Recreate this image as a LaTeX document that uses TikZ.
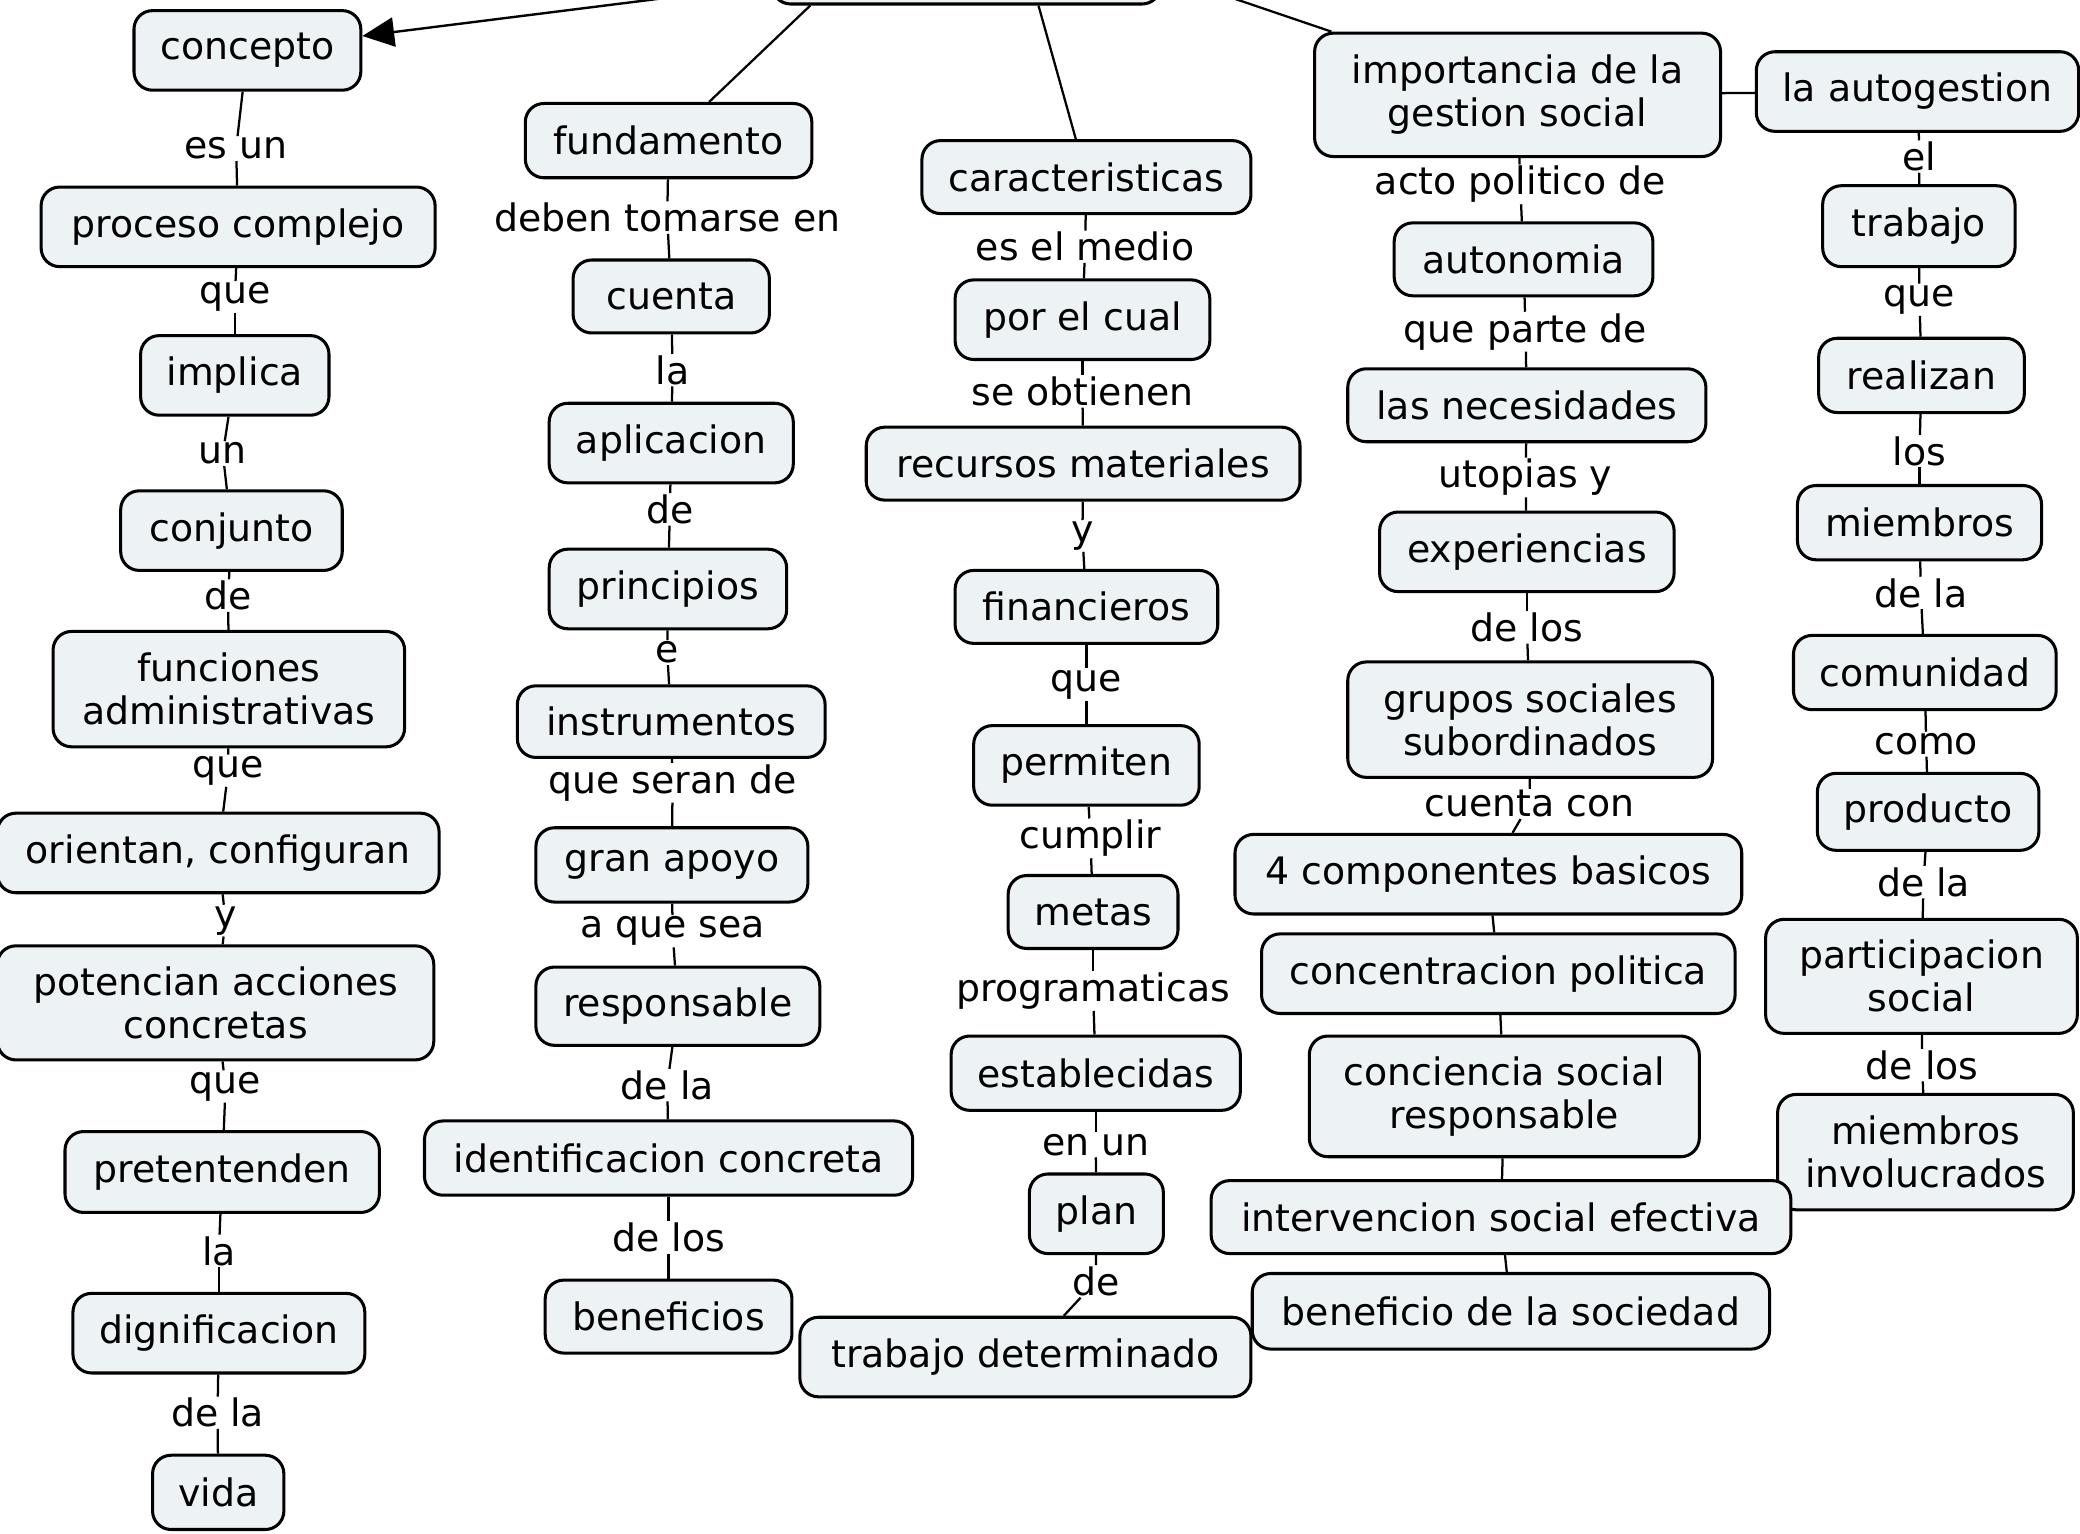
\documentclass[tikz,border=0pt]{standalone}
\usepackage{fontspec}
\setmainfont{DejaVu Sans}
\usetikzlibrary{calc,arrows.meta}
\definecolor{boxfill}{HTML}{EDF2F5}
\newcommand\mapfont{\fontsize{28.5}{32.5}\selectfont}
\begin{document}
\begin{tikzpicture}[x=1pt,y=-1pt,
  concept/.style={draw=black, line width=2.3pt, fill=boxfill, rounded corners=14pt,
    inner sep=0pt, align=center, font=\mapfont},
  lab/.style={inner sep=1pt, align=center, font=\mapfont},
  conn/.style={line width=1.7pt, draw=black},
  bigarrow/.style={line width=1.8pt, -{Triangle[length=24pt,width=22pt]}}]
\useasboundingbox (0,0) rectangle (1568,1156);

% root (mostly above the page)
\node[concept, minimum width=293pt, minimum height=86pt] (root) at (728.5,-40) {};
\coordinate (r1) at ($(root.south west)+(30,0)$);
\coordinate (r2) at ($(root.south west)+(202,0)$);
\coordinate (lkA) at (569,-10);
\coordinate (lkB) at (904,-10);

% column 1
\node[concept, minimum width=171pt, minimum height=60pt] (concepto) at (186.5,38) {concepto};
\node[concept, minimum width=297pt, minimum height=60pt] (proceso) at (179.5,171) {proceso complejo};
\node[concept, minimum width=142pt, minimum height=60pt] (implica) at (177,283) {implica};
\node[concept, minimum width=167pt, minimum height=60pt] (conjunto) at (174.5,400) {conjunto};
\node[concept, minimum width=265pt, minimum height=87pt] (funciones) at (172.5,519.5) {funciones\\administrativas};
\node[concept, minimum width=333pt, minimum height=60pt] (orientan) at (164.5,643) {orientan, configuran};
\node[concept, minimum width=329pt, minimum height=86pt] (potencian) at (162.5,756) {potencian acciones\\concretas};
\node[concept, minimum width=237pt, minimum height=61pt] (pretenden) at (167.5,883.5) {pretentenden};
\node[concept, minimum width=220pt, minimum height=60pt] (dignif) at (165,1005) {dignificacion};
\node[concept, minimum width=99pt, minimum height=56pt] (vida) at (164.5,1125) {vida};

\node[lab] (a1) at (178,112) {es un};
\node[lab] (a2) at (177,224) {que};
\node[lab] (a3) at (168,342) {un};
\node[lab] (a4) at (172,449) {de};
\node[lab] (a5) at (172,581) {que};
\node[lab] (a6) at (170,694) {y};
\node[lab] (a7) at (170,819) {que};
\node[lab] (a8) at (165,943) {la};
\node[lab] (a9) at (164,1065) {de la};

% column 2
\node[concept, minimum width=216pt, minimum height=56pt] (fundamento) at (504,106) {fundamento};
\node[concept, minimum width=148pt, minimum height=55pt] (cuenta) at (506,223.5) {cuenta};
\node[concept, minimum width=184pt, minimum height=60pt] (aplicacion) at (506,334) {aplicacion};
\node[concept, minimum width=179pt, minimum height=60pt] (principios) at (503.5,444) {principios};
\node[concept, minimum width=232pt, minimum height=54pt] (instrumentos) at (506,544) {instrumentos};
\node[concept, minimum width=205pt, minimum height=56pt] (apoyo) at (506.5,652) {gran apoyo};
\node[concept, minimum width=214pt, minimum height=59pt] (responsable) at (511,758.5) {responsable};
\node[concept, minimum width=368pt, minimum height=56pt] (identif) at (504,873) {identificacion concreta};
\node[concept, minimum width=186pt, minimum height=55pt] (beneficios) at (504,992.5) {beneficios};

\node[lab] (b1) at (503,164) {deben tomarse en};
\node[lab] (b2) at (507,279) {la};
\node[lab] (b3) at (505,384) {de};
\node[lab] (b4) at (503,492) {e};
\node[lab] (b5) at (507,590) {que seran de};
\node[lab] (b6) at (507,702) {a que sea};
\node[lab] (b7) at (503,818) {de la};
\node[lab] (b8) at (504,933) {de los};

% column 3
\node[concept, minimum width=248pt, minimum height=55pt] (caract) at (819,133.5) {caracteristicas};
\node[concept, minimum width=192pt, minimum height=60pt] (porelcual) at (816,241) {por el cual};
\node[concept, minimum width=327pt, minimum height=55pt] (recursos) at (816.5,349.5) {recursos materiales};
\node[concept, minimum width=198pt, minimum height=55pt] (financieros) at (819,457.5) {financieros};
\node[concept, minimum width=170pt, minimum height=60pt] (permiten) at (819,577) {permiten};
\node[concept, minimum width=128pt, minimum height=55pt] (metas) at (824,687.5) {metas};
\node[concept, minimum width=218pt, minimum height=56pt] (establecidas) at (826,809) {establecidas};
\node[concept, minimum width=101pt, minimum height=60pt] (plan) at (826.5,915) {plan};
\node[concept, minimum width=340pt, minimum height=60pt] (trabajodet) at (773,1023) {trabajo determinado};

\node[lab] (c1) at (818,186) {es el medio};
\node[lab] (c2) at (816,295) {se obtienen};
\node[lab] (c3) at (816,404) {y};
\node[lab] (c4) at (819,516) {que};
\node[lab] (c5) at (822,632) {cumplir};
\node[lab] (c6) at (824,747) {programaticas};
\node[lab] (c7) at (826,863) {en un};
\node[lab] (c8) at (826,966) {de};

% column 5 (before column 4 so that overlaps match)
\node[concept, minimum width=243pt, minimum height=60pt] (autogestion) at (1445.5,69) {la autogestion};
\node[concept, minimum width=145pt, minimum height=61pt] (trabajo) at (1446.5,170.5) {trabajo};
\node[concept, minimum width=155pt, minimum height=56pt] (realizan) at (1448.5,283) {realizan};
\node[concept, minimum width=184pt, minimum height=56pt] (miembros) at (1447,394) {miembros};
\node[concept, minimum width=198pt, minimum height=56pt] (comunidad) at (1451,507) {comunidad};
\node[concept, minimum width=167pt, minimum height=58pt] (producto) at (1453.5,612) {producto};
\node[concept, minimum width=235pt, minimum height=86pt] (particip) at (1448.5,736) {participacion\\social};
\node[concept, minimum width=223pt, minimum height=87pt] (involucrados) at (1451.5,868.5) {miembros\\involucrados};

\node[lab] (e1) at (1447,118) {el};
\node[lab] (e2) at (1447,226) {que};
\node[lab] (e3) at (1447,340) {los};
\node[lab] (e4) at (1448,447) {de la};
\node[lab] (e5) at (1452,561) {como};
\node[lab] (e6) at (1450,665) {de la};
\node[lab] (e7) at (1449,803) {de los};

% column 4
\node[concept, minimum width=306pt, minimum height=93pt] (importancia) at (1144,71.5) {importancia de la\\gestion social};
\node[concept, minimum width=195pt, minimum height=55pt] (autonomia) at (1148.5,195.5) {autonomia};
\node[concept, minimum width=270pt, minimum height=55pt] (necesidades) at (1151,305.5) {las necesidades};
\node[concept, minimum width=222pt, minimum height=60pt] (experiencias) at (1151,416) {experiencias};
\node[concept, minimum width=275pt, minimum height=87pt] (grupos) at (1153.5,542.5) {grupos sociales\\subordinados};
\node[concept, minimum width=382pt, minimum height=60pt] (componentes) at (1122,659) {4 componentes basicos};
\node[concept, minimum width=357pt, minimum height=60pt] (concentracion) at (1129.5,734) {concentracion politica};
\node[concept, minimum width=294pt, minimum height=91pt] (conciencia) at (1134,826.5) {conciencia social\\responsable};
\node[concept, minimum width=437pt, minimum height=55pt] (intervencion) at (1131.5,917.5) {intervencion social efectiva};
\node[concept, minimum width=390pt, minimum height=57pt] (beneficio) at (1139,988.5) {beneficio de la sociedad};

\node[lab] (d1) at (1146,139) {acto politico de};
\node[lab] (d2) at (1150,250) {que parte de};
\node[lab] (d3) at (1150,360) {utopias y};
\node[lab] (d4) at (1151,473) {de los};
\node[lab] (d5) at (1153,606) {cuenta con};

% connectors from the top
\draw[bigarrow] (lkA) -- (concepto);
\draw[conn] (r1) -- (fundamento);
\draw[conn] (r2) -- (caract);
\draw[conn] (lkB) -- (importancia);
\draw[conn] (importancia) -- (autogestion);

% labelled links
\foreach \p/\q/\r in {
  concepto/a1/proceso, proceso/a2/implica, implica/a3/conjunto, conjunto/a4/funciones,
  funciones/a5/orientan, orientan/a6/potencian, potencian/a7/pretenden, pretenden/a8/dignif,
  dignif/a9/vida,
  fundamento/b1/cuenta, cuenta/b2/aplicacion, aplicacion/b3/principios, principios/b4/instrumentos,
  instrumentos/b5/apoyo, apoyo/b6/responsable, responsable/b7/identif, identif/b8/beneficios,
  caract/c1/porelcual, porelcual/c2/recursos, recursos/c3/financieros, financieros/c4/permiten,
  permiten/c5/metas, metas/c6/establecidas, establecidas/c7/plan, plan/c8/trabajodet,
  importancia/d1/autonomia, autonomia/d2/necesidades, necesidades/d3/experiencias,
  experiencias/d4/grupos, grupos/d5/componentes,
  autogestion/e1/trabajo, trabajo/e2/realizan, realizan/e3/miembros, miembros/e4/comunidad,
  comunidad/e5/producto, producto/e6/particip, particip/e7/involucrados}
{
  \draw[conn] (\p) -- (\q);
  \draw[conn] (\q) -- (\r);
}

% unlabelled links
\draw[conn] (componentes) -- (concentracion);
\draw[conn] (concentracion) -- (conciencia);
\draw[conn] (conciencia) -- (intervencion);
\draw[conn] (intervencion) -- (beneficio);
\end{tikzpicture}
\end{document}
